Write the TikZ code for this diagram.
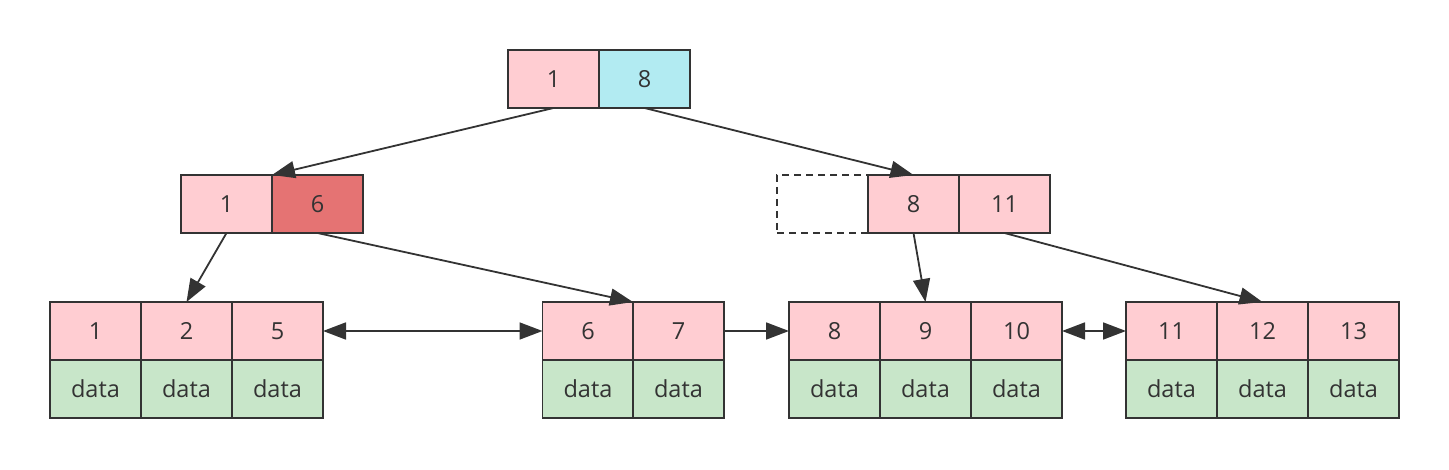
\documentclass[tikz,border=0pt]{standalone}
\usepackage{fontspec}
\setmainfont{Open Sans}
\usetikzlibrary{arrows.meta}
\definecolor{pk}{HTML}{FFCDD2}
\definecolor{cy}{HTML}{B2EBF2}
\definecolor{rd}{HTML}{E57373}
\definecolor{gr}{HTML}{C8E6C9}
\definecolor{ln}{HTML}{333333}
\begin{document}
\begin{tikzpicture}[x=1pt,y=-1pt,
  cell/.style={draw=ln,line width=1.8pt,minimum width=91pt,minimum height=58pt,inner sep=0pt,outer sep=0pt,text=ln,font=\fontsize{23.5}{28}\selectfont},
  pkc/.style={cell,fill=pk},
  grc/.style={cell,fill=gr},
  conn/.style={draw=ln,line width=1.8pt,-{Triangle[length=23pt,width=17pt]}},
  dconn/.style={draw=ln,line width=1.8pt,{Triangle[length=23pt,width=17pt]}-{Triangle[length=23pt,width=17pt]}}]
\useasboundingbox (0,0) rectangle (1449,470);
% root
\node[pkc] (r1) at (553.5,79) {1};
\node[cell,fill=cy] (r2) at (644.5,79) {8};
% left internal
\node[pkc] (a1) at (226.5,204) {1};
\node[cell,fill=rd] (a2) at (317.5,204) {6};
% right internal
\node[cell,draw=ln,dash pattern=on 7pt off 5pt] (dd) at (822.5,204) {};
\node[pkc] (b1) at (913.5,204) {8};
\node[pkc] (b2) at (1004.5,204) {11};
% leaf 1
\node[pkc] (l11) at (95.5,331) {1};
\node[pkc] (l12) at (186.5,331) {2};
\node[pkc] (l13) at (277.5,331) {5};
\node[grc] (g11) at (95.5,389) {data};
\node[grc] (g12) at (186.5,389) {data};
\node[grc] (g13) at (277.5,389) {data};
% leaf 2
\node[pkc] (l21) at (588,331) {6};
\node[pkc] (l22) at (678.5,331) {7};
\node[grc] (g21) at (588,389) {data};
\node[grc] (g22) at (678.5,389) {data};
% leaf 3
\node[pkc] (l31) at (834.5,331) {8};
\node[pkc] (l32) at (925.5,331) {9};
\node[pkc] (l33) at (1016.5,331) {10};
\node[grc] (g31) at (834.5,389) {data};
\node[grc] (g32) at (925.5,389) {data};
\node[grc] (g33) at (1016.5,389) {data};
% leaf 4
\node[pkc] (l41) at (1171.5,331) {11};
\node[pkc] (l42) at (1262.5,331) {12};
\node[pkc] (l43) at (1353.5,331) {13};
\node[grc] (g41) at (1171.5,389) {data};
\node[grc] (g42) at (1262.5,389) {data};
\node[grc] (g43) at (1353.5,389) {data};
% connectors
\draw[conn] (r1.south) -- (a2.north west);
\draw[conn] (r2.south) -- (b1.north);
\draw[conn] (a1.south) -- (l12.north);
\draw[conn] (a2.south) -- (l22.north west);
\draw[conn] (b1.south) -- (l32.north);
\draw[conn] (b2.south) -- (l42.north);
\draw[dconn] (l13.east) -- (l21.west);
\draw[conn] (l22.east) -- (l31.west);
\draw[dconn] (l33.east) -- (l41.west);
\end{tikzpicture}
\end{document}
